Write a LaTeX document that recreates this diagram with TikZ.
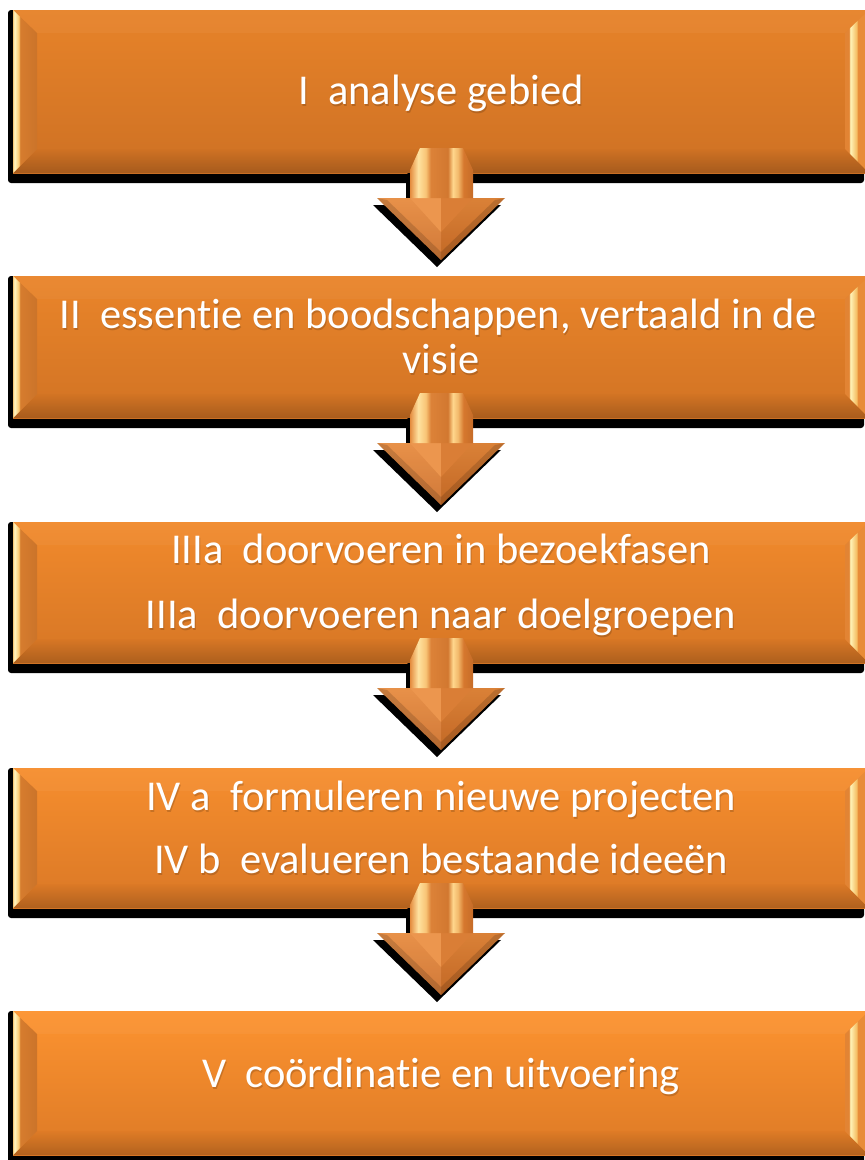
\documentclass[tikz,border=0pt]{standalone}
\usepackage{fontspec}
\setmainfont{Carlito}[RawFeature={-liga;-dlig;-clig}]
\definecolor{bAt}{RGB}{231,131,41}\definecolor{bAb}{RGB}{206,113,36}
\definecolor{bBt}{RGB}{234,133,42}\definecolor{bBb}{RGB}{209,115,36}
\definecolor{bCt}{RGB}{241,138,44}\definecolor{bCb}{RGB}{214,118,37}
\definecolor{bDt}{RGB}{246,142,46}\definecolor{bDb}{RGB}{218,120,38}
\definecolor{bEt}{RGB}{252,147,48}\definecolor{bEb}{RGB}{221,122,38}
\definecolor{lv0}{RGB}{245,200,120}
\definecolor{lv1}{RGB}{255,246,195}
\definecolor{lv2}{RGB}{250,200,110}
\definecolor{lv3}{RGB}{214,124,46}
\definecolor{lv4}{RGB}{203,116,42}
\definecolor{rv0}{RGB}{226,132,52}
\definecolor{rv1}{RGB}{255,244,185}
\definecolor{rv2}{RGB}{245,190,100}
\definecolor{rv3}{RGB}{232,140,56}
\definecolor{sh0}{RGB}{228,140,62}
\definecolor{sh1}{RGB}{255,226,160}
\definecolor{sh2}{RGB}{248,196,118}
\definecolor{sh3}{RGB}{220,130,56}
\definecolor{sh4}{RGB}{210,120,48}
\definecolor{sh5}{RGB}{255,214,140}
\definecolor{sh6}{RGB}{243,186,108}
\definecolor{sh7}{RGB}{214,120,46}
\definecolor{sh8}{RGB}{198,108,40}
\definecolor{hdT}{RGB}{230,136,58}
\definecolor{hdB}{RGB}{205,110,40}
\definecolor{vL}{RGB}{236,150,78}
\definecolor{vR}{RGB}{218,126,54}
\pgfdeclarehorizontalshading{lbev}{100bp}{color(0bp)=(lv0); color(25bp)=(lv0); color(28bp)=(lv1); color(37bp)=(lv2); color(40bp)=(lv3); color(75bp)=(lv4); color(100bp)=(lv4)}
\pgfdeclarehorizontalshading{rbev}{100bp}{color(0bp)=(rv0); color(25bp)=(rv0); color(33bp)=(rv0); color(36bp)=(rv1); color(49bp)=(rv2); color(52bp)=(rv3); color(75bp)=(rv3); color(100bp)=(rv3)}
\pgfdeclarehorizontalshading{shaft}{100bp}{color(0bp)=(sh0); color(25bp)=(sh0); color(31.5bp)=(sh1); color(37.5bp)=(sh2); color(41.5bp)=(sh3); color(55bp)=(sh4); color(59bp)=(sh5); color(63bp)=(sh6); color(67.5bp)=(sh7); color(75bp)=(sh8); color(100bp)=(sh8)}
\tikzset{
  lbl/.style={text=white, font=\fontsize{42.5}{45}\selectfont, anchor=base, inner sep=0pt},
  lblshadow/.style={text=black, opacity=.16, font=\fontsize{42.5}{45}\selectfont, anchor=base, inner sep=0pt},
  boxshadow/.style={fill=black, rounded corners=3pt},
  arrshadow/.style={fill=black}
}
\newcommand\bevbox[4]{%
  \fill[boxshadow] (8,#1) rectangle (864,#2+10);
  \shade[top color=#3, bottom color=#4] (13,#1) rectangle (869,#2);
  \fill[white,opacity=.04] (13,#1) -- (869,#1) -- (845,#1+23) -- (37,#1+23) -- cycle;
  \shade[top color=#4, bottom color=black!35!#4, opacity=.55] (13,#2) -- (37,#2-24) -- (845,#2-24) -- (869,#2) -- cycle;
  \shade[shading=lbev] (13,#1) -- (37,#1+23) -- (37,#2-24) -- (13,#2) -- cycle;
  \shade[shading=rbev] (869,#1) -- (845,#1+23) -- (845,#2-24) -- (869,#2) -- cycle;
}
\newcommand\blockarr[3]{%
  \begin{scope}
    \clip (0,#2) rectangle (865,1200);
    \begin{scope}[shift={(437,#1+7)}]
      \fill[arrshadow] (-21,0) -- (22,0) -- (32,22) -- (32,50) -- (64,50) -- (0,112) -- (-64,50) -- (-31,50) -- (-31,22) -- cycle;
    \end{scope}
  \end{scope}
  \begin{scope}[shift={(441,#1)}]
    \coordinate (#3) at (0,112);
    \shade[top color=hdT, bottom color=hdB] (-64,50) -- (64,50) -- (0,112) -- cycle;
    \fill[white,opacity=.08] (-64,50) -- (0,50) -- (0,112) -- cycle;
    \fill[black,opacity=.05] (64,50) -- (0,50) -- (0,112) -- cycle;
    \fill[black,opacity=.14] (-64,50) -- (0,112) -- (64,50) -- (54,52) -- (0,104) -- (-54,52) -- cycle;
    \fill[vL] (-31,50) -- (0,50) -- (0,84) -- cycle;
    \fill[vR] (0,50) -- (32,50) -- (0,84) -- cycle;
    \shade[shading=shaft] (-21,0) -- (22,0) -- (32,22) -- (32,50) -- (-31,50) -- (-31,22) -- cycle;
  \end{scope}
}
\begin{document}
\begin{tikzpicture}[x=1pt,y=-1pt]
\useasboundingbox (0,0) rectangle (865,1160);
\clip (0,0) rectangle (865,1160);
\fill[white] (0,0) rectangle (865,1160);
\bevbox{10}{173}{bAt}{bAb}
\bevbox{276}{418}{bBt}{bBb}
\bevbox{522}{663}{bCt}{bCb}
\bevbox{768}{908}{bDt}{bDb}
\bevbox{1011}{1155}{bEt}{bEb}
\blockarr{148}{173}{a1}
\blockarr{393}{418}{a2}
\blockarr{638}{663}{a3}
\blockarr{883}{908}{a4}
% labels
\node[lblshadow] (s1) at (442,106) {I~ analyse gebied};
\node[lbl] (t1) at (441,104) {I~ analyse gebied};
\node[lblshadow] (s2a) at (439,330) {II~ essentie en boodschappen, vertaald in de};
\node[lbl] (t2a) at (438,328) {II~ essentie en boodschappen, vertaald in de};
\node[lblshadow] (s2b) at (442,375) {visie};
\node[lbl] (t2b) at (441,373) {visie};
\node[lblshadow] (s3a) at (442,565) {IIIa~ doorvoeren in bezoekfasen};
\node[lbl] (t3a) at (441,563) {IIIa~ doorvoeren in bezoekfasen};
\node[lblshadow] (s3b) at (442,630) {IIIa~ doorvoeren naar doelgroepen};
\node[lbl] (t3b) at (441,628) {IIIa~ doorvoeren naar doelgroepen};
\node[lblshadow] (s4a) at (442,812) {IV a~ formuleren nieuwe projecten};
\node[lbl] (t4a) at (441,810) {IV a~ formuleren nieuwe projecten};
\node[lblshadow] (s4b) at (442,875) {IV b~ evalueren bestaande ideeën};
\node[lbl] (t4b) at (441,873) {IV b~ evalueren bestaande ideeën};
\node[lblshadow] (s5) at (442,1089) {V~ coördinatie en uitvoering};
\node[lbl] (t5) at (441,1087) {V~ coördinatie en uitvoering};
\end{tikzpicture}
\end{document}
